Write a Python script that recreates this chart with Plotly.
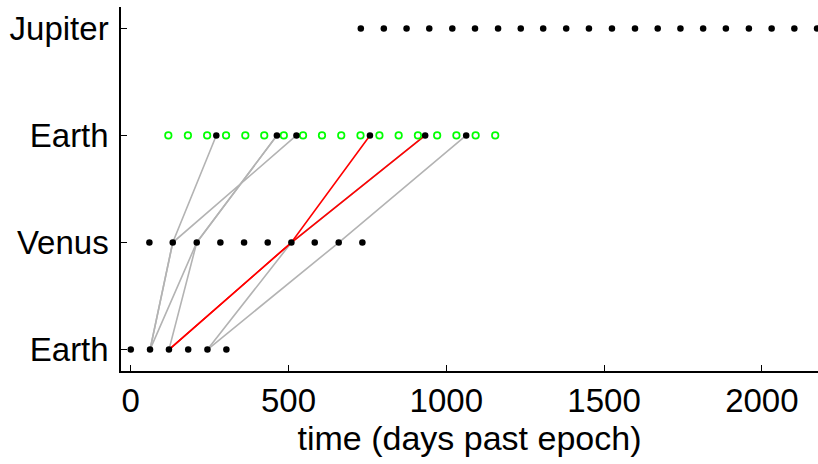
import plotly.graph_objects as go

# Row positions on the vertical axis
row_ticks = [1, 2, 3, 4]
row_labels = ["Earth", "Venus", "Earth", "Jupiter"]

# Candidate dates (days past epoch) at each body
earth_launch_days = [0, 61, 121, 182, 243, 303]
venus_flyby_days = [59, 133, 209, 284, 359, 434, 509, 583, 659, 734]
earth_return_grid = [119, 181, 242, 302, 363, 423, 485, 546, 606, 667,
                     728, 788, 849, 910, 971, 1032, 1093, 1155]
earth_return_days = [271, 463, 525, 758, 933, 1063]
jupiter_days = [729, 802, 874, 946, 1019, 1091, 1164, 1236, 1307, 1380,
                1452, 1525, 1598, 1670, 1742, 1814, 1886, 1959, 2031,
                2103, 2175]

# Earth -> Venus -> Earth legs (launch, flyby, return)
gray_launch = [61, 61, 61, 121, 243, 243]
gray_flyby = [133, 133, 209, 209, 509, 659]
gray_return = [271, 525, 463, 463, 933, 1063]

red_launch = [121, 121]
red_flyby = [509, 509]
red_return = [758, 933]

fig = go.Figure()


def add_paths(launch, flyby, ret, color):
    xs, ys = [], []
    for a, b, c in zip(launch, flyby, ret):
        xs += [a, b, c, None]
        ys += [1, 2, 3, None]
    fig.add_trace(go.Scatter(x=xs, y=ys, mode="lines",
                             line=dict(color=color, width=1.6),
                             hoverinfo="skip", showlegend=False))


add_paths(gray_launch, gray_flyby, gray_return, "#b3b3b3")
add_paths(red_launch, red_flyby, red_return, "#ff0000")

fig.add_trace(go.Scatter(
    x=earth_return_grid, y=[3] * len(earth_return_grid), mode="markers",
    marker=dict(symbol="circle-open", size=6.5, color="#00ff00",
                line=dict(color="#00ff00", width=1.7)),
    showlegend=False))

dot = dict(symbol="circle", size=6.5, color="black")
fig.add_trace(go.Scatter(x=earth_launch_days, y=[1] * len(earth_launch_days),
                         mode="markers", marker=dot, showlegend=False))
fig.add_trace(go.Scatter(x=venus_flyby_days, y=[2] * len(venus_flyby_days),
                         mode="markers", marker=dot, showlegend=False))
fig.add_trace(go.Scatter(x=earth_return_days, y=[3] * len(earth_return_days),
                         mode="markers", marker=dot, showlegend=False))
fig.add_trace(go.Scatter(x=jupiter_days, y=[4] * len(jupiter_days),
                         mode="markers", marker=dot, showlegend=False))

font_family = "Liberation Sans, Arial, sans-serif"

fig.update_layout(
    width=818, height=464,
    margin=dict(l=121, r=0, t=7, b=93),
    plot_bgcolor="white", paper_bgcolor="white",
    font=dict(family=font_family, size=33, color="black"),
    xaxis=dict(
        range=[-31, 2178],
        tickvals=[0, 500, 1000, 1500, 2000],
        ticks="inside", ticklen=6, tickwidth=1.2, tickcolor="black",
        showline=True, linecolor="black", linewidth=1.5,
        showgrid=False, zeroline=False,
        tickfont=dict(size=33),
        title=dict(text="time (days past epoch)", font=dict(size=34),
                   standoff=2),
    ),
    yaxis=dict(
        range=[0.8, 4.2],
        tickvals=row_ticks, ticktext=row_labels,
        ticks="inside", ticklen=6, tickwidth=1.2, tickcolor="black",
        showline=True, linecolor="black", linewidth=1.5,
        showgrid=False, zeroline=False,
        tickfont=dict(size=33),
        ticklabelstandoff=4,
    ),
)

fig.write_html("out.html")
